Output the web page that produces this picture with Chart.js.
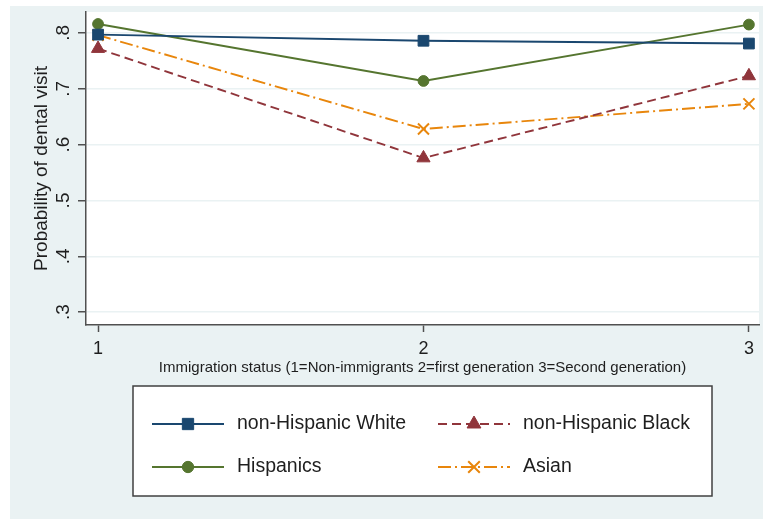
<!DOCTYPE html>
<html>
<head>
<meta charset="utf-8">
<script src="https://cdn.jsdelivr.net/npm/chart.js@4/dist/chart.umd.min.js"></script>
<style>
  html, body { margin: 0; padding: 0; background: #ffffff; }
  canvas { display: block; }
</style>
</head>
<body>
<canvas id="c" width="763" height="519"></canvas>
<script>
// Immigration status categories on the x axis
const immigrationStatus = [1, 2, 3];
const xTickValues = [1, 2, 3];
const yTickValues = [0.3, 0.4, 0.5, 0.6, 0.7, 0.8];

// Predicted probability of a dental visit by group
const nonHispanicWhite = [0.797, 0.786, 0.781];
const nonHispanicBlack = [0.772, 0.576, 0.723];
const hispanics = [0.816, 0.714, 0.815];
const asian = [0.796, 0.628, 0.673];

const seriesLabels = ['non-Hispanic White', 'non-Hispanic Black', 'Hispanics', 'Asian'];

const FONT = '"Liberation Sans", Arial, Helvetica, sans-serif';
const TEXT = '#1e1e1e';
const AXIS = '#505050';
const GRAPH_BG = '#eaf2f3';

function points(values) {
  return immigrationStatus.map((x, i) => ({ x: x, y: values[i] }));
}

// Stata-like background: light graph region, white plot region
const backgroundPlugin = {
  id: 'graphBackground',
  beforeDraw(chart) {
    const { ctx, chartArea: a } = chart;
    ctx.save();
    ctx.fillStyle = GRAPH_BG;
    ctx.fillRect(10, 6, chart.width - 10, chart.height - 6);
    ctx.fillStyle = '#ffffff';
    ctx.fillRect(a.left, a.top, a.right - a.left, a.bottom - a.top);
    ctx.restore();
  }
};

// Boxed two-column legend with line + marker keys
const keyLegendPlugin = {
  id: 'keyLegend',
  afterDraw(chart) {
    const { ctx } = chart;
    const box = { x: 133, y: 386, w: 579, h: 110 };
    ctx.save();
    ctx.fillStyle = '#ffffff';
    ctx.fillRect(box.x, box.y, box.w, box.h);
    ctx.strokeStyle = '#404040';
    ctx.lineWidth = 1.5;
    ctx.strokeRect(box.x, box.y, box.w, box.h);

    const colX = [152, 438];
    const rowY = [424, 467];
    const keyW = 72;
    chart.data.datasets.forEach((ds, i) => {
      const col = i % 2, row = Math.floor(i / 2);
      const x0 = colX[col], y = rowY[row];
      ctx.save();
      ctx.strokeStyle = ds.borderColor;
      ctx.lineWidth = ds.borderWidth;
      ctx.setLineDash(ds.borderDash || []);
      ctx.beginPath();
      ctx.moveTo(x0, y);
      ctx.lineTo(x0 + keyW, y);
      ctx.stroke();
      ctx.setLineDash([]);
      ctx.fillStyle = ds.pointBackgroundColor;
      ctx.strokeStyle = ds.pointBorderColor;
      ctx.lineWidth = ds.pointBorderWidth;
      Chart.helpers.drawPoint(ctx, {
        pointStyle: ds.pointStyle,
        radius: ds.pointRadius * 1.05,
        rotation: 0,
        borderWidth: ds.pointBorderWidth
      }, x0 + keyW / 2, y);
      ctx.restore();

      ctx.fillStyle = TEXT;
      ctx.font = '19.5px ' + FONT;
      ctx.textAlign = 'left';
      ctx.textBaseline = 'middle';
      ctx.fillText(ds.label, x0 + keyW + 13, y);
    });
    ctx.restore();
  }
};

const navy = '#1a476f';
const maroon = '#90353b';
const green = '#55752f';
const orange = '#e8860c';

new Chart(document.getElementById('c'), {
  type: 'scatter',
  data: {
    datasets: [
      {
        label: seriesLabels[0], data: points(nonHispanicWhite), showLine: true,
        borderColor: navy, borderWidth: 1.9, borderDash: [],
        pointStyle: 'rect', pointRadius: 7.6, pointBackgroundColor: navy,
        pointBorderColor: navy, pointBorderWidth: 1
      },
      {
        label: seriesLabels[1], data: points(nonHispanicBlack), showLine: true,
        borderColor: maroon, borderWidth: 1.9, borderDash: [9, 5],
        pointStyle: 'triangle', pointRadius: 7.6, pointBackgroundColor: maroon,
        pointBorderColor: maroon, pointBorderWidth: 1
      },
      {
        label: seriesLabels[2], data: points(hispanics), showLine: true,
        borderColor: green, borderWidth: 1.9, borderDash: [],
        pointStyle: 'circle', pointRadius: 5.4, pointBackgroundColor: green,
        pointBorderColor: green, pointBorderWidth: 1
      },
      {
        label: seriesLabels[3], data: points(asian), showLine: true,
        borderColor: orange, borderWidth: 1.9, borderDash: [13, 4, 2, 4],
        pointStyle: 'crossRot', pointRadius: 7.8, pointBackgroundColor: orange,
        pointBorderColor: orange, pointBorderWidth: 2
      }
    ]
  },
  options: {
    responsive: false,
    animation: false,
    events: [],
    layout: { autoPadding: false, padding: { left: 0, top: 12, right: 4, bottom: 0 } },
    plugins: { legend: { display: false }, tooltip: { enabled: false } },
    scales: {
      x: {
        type: 'linear', min: 0.963, max: 3.031,
        afterBuildTicks(scale) { scale.ticks = xTickValues.map(v => ({ value: v })); },
        afterFit(scale) {
          scale.height = 194;
          scale.paddingLeft = 0; scale.paddingRight = 0;
        },
        ticks: {
          color: TEXT, font: { family: FONT, size: 18 }, padding: 6,
          callback: v => String(v)
        },
        grid: { drawOnChartArea: false, tickLength: 7, tickColor: AXIS, tickWidth: 1.5 },
        border: { color: AXIS, width: 1.5 },
        title: {
          display: true,
          text: 'Immigration status (1=Non-immigrants 2=first generation 3=Second generation)',
          color: TEXT, font: { family: FONT, size: 15 },
          padding: { top: 0, bottom: 142 }
        }
      },
      y: {
        type: 'linear', min: 0.277, max: 0.8375,
        afterBuildTicks(scale) { scale.ticks = yTickValues.map(v => ({ value: v })); },
        afterFit(scale) {
          scale.width = 86;
          scale.paddingTop = 0; scale.paddingBottom = 0;
        },
        ticks: {
          color: TEXT, font: { family: FONT, size: 19 }, padding: 6,
          minRotation: 90, maxRotation: 90, crossAlign: 'center',
          callback: v => v.toFixed(1).replace(/^0/, '')
        },
        grid: { color: GRAPH_BG, lineWidth: 1.5, tickLength: 8, tickColor: AXIS, tickWidth: 1.5 },
        border: { color: AXIS, width: 1.5 },
        title: {
          display: true, text: 'Probability of dental visit',
          color: TEXT, font: { family: FONT, size: 19 },
          padding: { top: 30.6, bottom: 0 }
        }
      }
    }
  },
  plugins: [backgroundPlugin, keyLegendPlugin]
});
</script>
</body>
</html>
